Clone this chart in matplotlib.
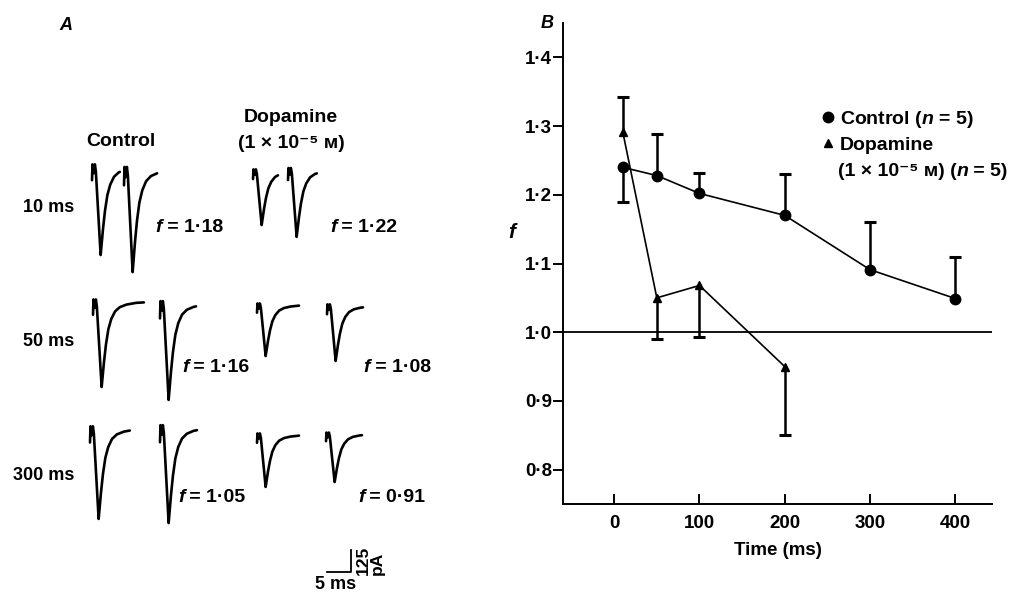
import numpy as np
import matplotlib
matplotlib.use('Agg')
import matplotlib.pyplot as plt
from matplotlib.lines import Line2D

plt.rcParams['font.family'] = ['Liberation Sans', 'DejaVu Sans']
plt.rcParams['font.weight'] = 'bold'
plt.rcParams['axes.labelweight'] = 'bold'
plt.rcParams['mathtext.fontset'] = 'custom'
plt.rcParams['mathtext.rm'] = 'Liberation Sans:bold'
plt.rcParams['mathtext.it'] = 'Liberation Sans:italic:bold'

# ---------------- data: panel B ----------------
time_ms = [10, 50, 100, 200, 300, 400]
control_f = [1.240, 1.228, 1.202, 1.170, 1.091, 1.049]
control_err_up = [0.0, 0.060, 0.030, 0.060, 0.070, 0.060]
control_err_down = [0.050, 0.0, 0.0, 0.0, 0.0, 0.0]

dopa_time_ms = [10, 50, 100, 200]
dopa_f = [1.292, 1.050, 1.068, 0.950]
dopa_err_up = [0.050, 0.0, 0.0, 0.0]
dopa_err_down = [0.0, 0.060, 0.075, 0.100]

x_ticks = [0, 100, 200, 300, 400]
y_ticks = [0.8, 0.9, 1.0, 1.1, 1.2, 1.3, 1.4]

# ---------------- data: panel A ----------------
intervals = ['10 ms', '50 ms', '300 ms']
ratio_control = ['1·18', '1·16', '1·05']
ratio_dopamine = ['1·22', '1·08', '0·91']
# peak EPSC amplitudes (pA) [first, second] for each interval
amp_control = [[500, 580], [483, 545], [511, 540]]
amp_dopamine = [[307, 380], [290, 312], [295, 273]]
# sweep length shown for each EPSC (ms)
sweep_control = [[5.8, 6.9], [10.6, 7.5], [8.3, 7.7]]
sweep_dopamine = [[5.2, 6.0], [8.75, 7.5], [8.75, 7.5]]
# normalised EPSC waveform (time from stimulus, ms; current / peak)
wave_t = [0.0, 0.1, 0.35, 0.6, 0.8, 1.8, 2.0, 2.3, 2.7, 3.2, 3.8, 4.6, 5.6, 7.0, 9.0, 12.0]
wave_i = [-0.15, 0.03, -0.07, 0.03, -0.05, -1.0, -0.88, -0.70, -0.50, -0.32, -0.20,
          -0.11, -0.06, -0.03, -0.01, 0.0]
SCALE_MS = 5
SCALE_PA = 125

# ---------------- figure ----------------
W, H = 1011, 594
fig = plt.figure(figsize=(W / 100, H / 100), dpi=100)


def fx(px):
    return px / W


def fy(py):
    return 1 - py / H


FS = 14

# ---------------- panel A ----------------
axA = fig.add_axes([0, 0, 0.5, 1])
axA.set_axis_off()
PX_PER_MS = 4.8
PA_PER_PX = 5.68
axA.set_xlim(0, 0.5 * W / PX_PER_MS)
axA.set_ylim(-H * PA_PER_PX, 0)


def ms(px):
    return px / PX_PER_MS


def pa(py):
    return -py * PA_PER_PX


onset_control = [[92, 124], [93, 160], [90, 160]]
onset_dopamine = [[253, 288], [257, 327], [257, 326]]
base_control = [[167, 170], [302, 304], [429, 428]]
base_dopamine = [[171, 170], [305, 306], [435, 434]]

wt = np.array(wave_t)
wi = np.array(wave_i)


def draw_epsc(x0, y0, amp, dur):
    keep = wt < dur
    t = np.append(wt[keep], dur)
    i = np.append(wi[keep], np.interp(dur, wt, wi))
    axA.plot(ms(x0) + t, pa(y0) + i * amp, color='k', lw=1.9,
             solid_joinstyle='round', solid_capstyle='round')


for r in range(3):
    for k in range(2):
        draw_epsc(onset_control[r][k], base_control[r][k],
                  amp_control[r][k], sweep_control[r][k])
        draw_epsc(onset_dopamine[r][k], base_dopamine[r][k],
                  amp_dopamine[r][k], sweep_dopamine[r][k])

# scale bar
sx, sy = ms(327), pa(572)
axA.plot([sx, sx + SCALE_MS, sx + SCALE_MS], [sy, sy, sy + SCALE_PA],
         color='k', lw=1.3)
fig.text(fx(356), fy(575), f'{SCALE_PA}\npA', rotation=90, ha='left', va='bottom',
         multialignment='left', fontsize=12.5, linespacing=0.9)
fig.text(fx(336), fy(593), f'{SCALE_MS} ms', ha='center', va='bottom', fontsize=13)


def rich(x, y, parts, size=FS, ax=axA):
    prev = ax.text(x, y, parts[0][0], transform=fig.transFigure, fontsize=size,
                   style=parts[0][1], ha='left', va='center')
    for s, st in parts[1:]:
        prev = ax.annotate(s, xy=(1, 0), xycoords=prev, ha='left', va='bottom',
                           fontsize=size, style=st, annotation_clip=False, zorder=10)
    return prev


fig.text(fx(66), fy(25), 'A', style='italic', fontsize=13, ha='center', va='center')
fig.text(fx(121), fy(141), 'Control', fontsize=FS, ha='center', va='center')
fig.text(fx(291), fy(118), 'Dopamine', fontsize=FS, ha='center', va='center')
fig.text(fx(291), fy(143), '(1 × 10⁻⁵ ᴍ)', fontsize=FS, ha='center', va='center')

row_y = [207, 341, 476]
fc_x = [155, 182, 178]
fd_x = [330, 363, 358]
fc_y = [227, 367, 497]
for r in range(3):
    fig.text(fx(74), fy(row_y[r]), intervals[r], fontsize=13, ha='right', va='center')
    rich(fx(fc_x[r]), fy(fc_y[r]), [('f', 'italic'), (' = ' + ratio_control[r], 'normal')])
    rich(fx(fd_x[r]), fy(fc_y[r]), [('f', 'italic'), (' = ' + ratio_dopamine[r], 'normal')])

# ---------------- panel B ----------------
axB = fig.add_axes([fx(563), fy(504), (992 - 563) / W, (504 - 23) / H])
axB.set_xlim(-60, 443)
axB.set_ylim(0.75, 1.45)

axB.axhline(1.0, color='k', lw=1.3, zorder=1)

axB.plot(time_ms, control_f, color='k', lw=1.2, marker='o', ms=7.5, zorder=3)
axB.plot(dopa_time_ms, dopa_f, color='k', lw=1.2, marker='^', ms=6, zorder=3)

for xs, ys, up, dn in [(time_ms, control_f, control_err_up, control_err_down),
                       (dopa_time_ms, dopa_f, dopa_err_up, dopa_err_down)]:
    xs = np.array(xs)
    ys = np.array(ys)
    ends = ys + np.array(up) - np.array(dn)
    axB.vlines(xs, ys, ends, color='k', lw=1.8, zorder=2)
    axB.plot(xs, ends, ls='none', marker='_', ms=9, mew=2.2, color='k', zorder=2)

for side in ['top', 'right']:
    axB.spines[side].set_visible(False)
for side in ['left', 'bottom']:
    axB.spines[side].set_linewidth(1.4)

axB.set_xticks(x_ticks)
axB.set_yticks(y_ticks)
axB.set_yticklabels([f'{v:.1f}'.replace('.', '·') for v in y_ticks])
axB.tick_params(axis='x', direction='in', length=7, width=1.4, pad=8, labelsize=13.5)
axB.tick_params(axis='y', direction='out', length=7, width=1.4, pad=1, labelsize=13.5)
axB.set_xlabel('Time (ms)', fontsize=13.5, labelpad=7)

fig.text(fx(547), fy(23), 'B', style='italic', fontsize=13, ha='center', va='center')
fig.text(fx(512), fy(233), 'f', style='italic', fontsize=15, ha='center', va='center')

handles = [Line2D([], [], color='k', marker='o', ls='none', ms=7.5),
           Line2D([], [], color='k', marker='^', ls='none', ms=6)]
labels = ['Control ($n$ = 5)', 'Dopamine']
leg = axB.legend(handles, labels, loc='upper left', bbox_to_anchor=(0.605, 0.821),
                 frameon=False, handlelength=0.6, handletextpad=0.3, labelspacing=0.3,
                 borderpad=0, borderaxespad=0, fontsize=FS)
rich(fx(838), fy(172), [('(1 × 10⁻⁵ ᴍ) (', 'normal'), ('n', 'italic'), (' = 5)', 'normal')],
     ax=axB)

fig.savefig('out.png', dpi=100)
